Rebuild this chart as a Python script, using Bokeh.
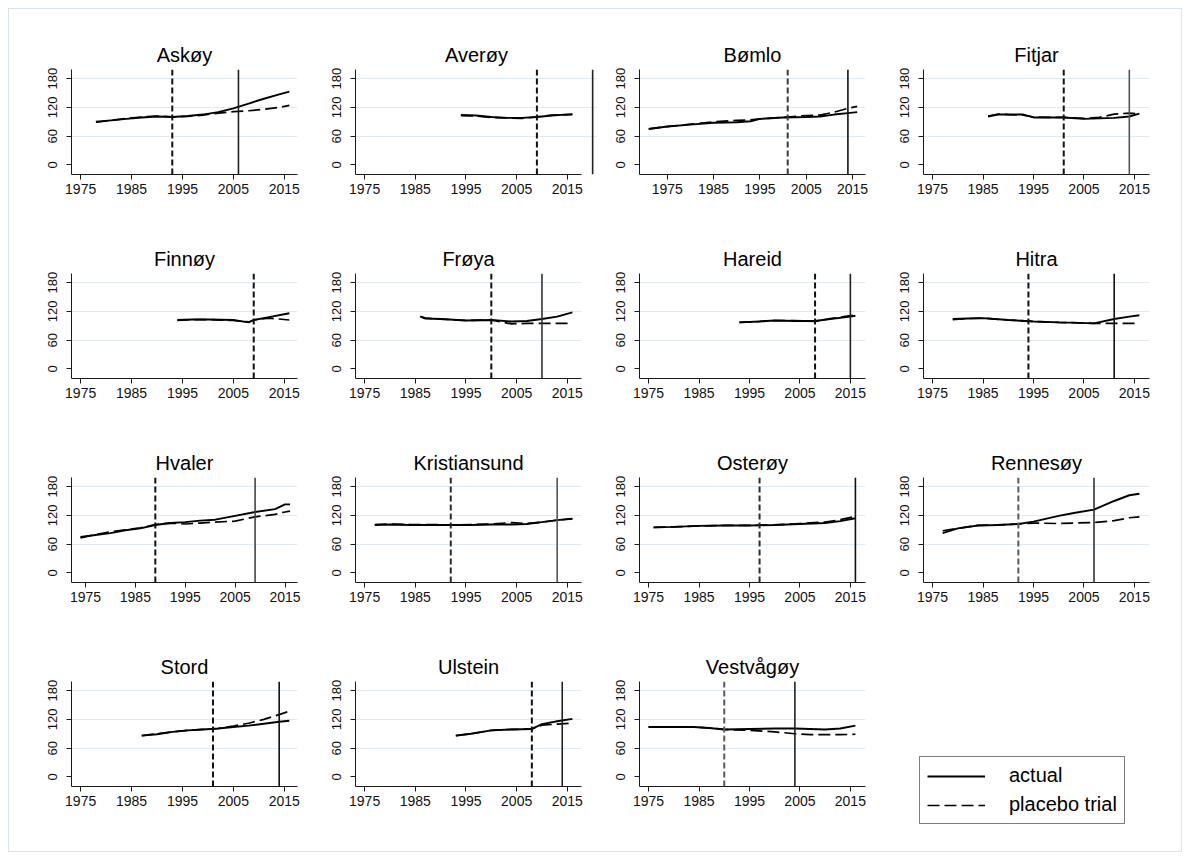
from bokeh.plotting import figure
from bokeh.layouts import row, column, Spacer
from bokeh.models import FixedTicker, Span, Legend, Range1d
from bokeh.embed import file_html
from bokeh.resources import INLINE

# ---------------- data ----------------
names = ["Askøy", "Averøy", "Bømlo", "Fitjar",
         "Finnøy", "Frøya", "Hareid", "Hitra",
         "Hvaler", "Kristiansund", "Osterøy", "Rennesøy",
         "Stord", "Ulstein", "Vestvågøy"]

askoy_years = [1978, 1981, 1984, 1987, 1990, 1993, 1996, 1999, 2002, 2005, 2008, 2011, 2014, 2016]
askoy_actual = [90, 93, 96, 99, 101, 100, 102, 105, 110, 118, 128, 138, 147, 153]
askoy_placebo = [89, 93, 97, 100, 102, 100, 101, 104, 108, 111, 113, 116, 120, 124]

averoy_years = [1994, 1997, 2000, 2003, 2006, 2009, 2012, 2016]
averoy_actual = [104, 103, 100, 98, 98, 100, 103, 106]
averoy_placebo = [103, 102, 99, 98, 97, 100, 104, 105]

bomlo_years = [1971, 1975, 1980, 1985, 1990, 1993, 1995, 2000, 2005, 2008, 2011, 2014, 2016]
bomlo_actual = [75, 80, 84, 88, 89, 91, 96, 99, 100, 101, 105, 108, 110]
bomlo_placebo = [75, 80, 85, 90, 93, 94, 96, 99, 103, 104, 110, 118, 122]

fitjar_years = [1986, 1988, 1990, 1993, 1995, 1998, 2001, 2005, 2008, 2011, 2014, 2016]
fitjar_actual = [101, 105, 105, 105, 99, 99, 99, 96, 97, 98, 101, 107]
fitjar_placebo = [102, 106, 105, 104, 100, 99, 99, 97, 99, 106, 108, 106]

finnoy_years = [1994, 1997, 2000, 2005, 2008, 2009, 2012, 2016]
finnoy_actual = [102, 103, 103, 102, 97, 102, 108, 116]
finnoy_placebo = [101, 103, 103, 101, 98, 102, 106, 102]

froya_years = [1986, 1987, 1990, 1995, 2000, 2004, 2007, 2010, 2013, 2016]
froya_actual = [109, 105, 104, 101, 102, 99, 100, 104, 109, 118]
froya_placebo = [110, 106, 104, 101, 102, 94, 95, 95, 95, 95]

hareid_years = [1993, 1997, 2000, 2004, 2008, 2011, 2015, 2016]
hareid_actual = [97, 99, 101, 100, 100, 104, 109, 111]
hareid_placebo = [97, 99, 101, 101, 99, 105, 111, 113]

hitra_years = [1979, 1982, 1985, 1990, 1995, 2000, 2004, 2007, 2011, 2014, 2016]
hitra_actual = [104, 105, 106, 102, 99, 97, 96, 95, 104, 109, 112]
hitra_placebo = [103, 105, 106, 102, 99, 97, 96, 95, 95, 95, 95]

hvaler_years = [1974, 1977, 1980, 1983, 1986, 1989, 1992, 1995, 1998, 2001, 2005, 2009, 2013, 2015, 2016]
hvaler_actual = [75, 79, 83, 89, 93, 100, 104, 106, 109, 111, 119, 127, 133, 143, 143]
hvaler_placebo = [73, 80, 86, 90, 94, 101, 104, 102, 104, 106, 108, 117, 122, 127, 129]

kristiansund_years = [1977, 1980, 1984, 1988, 1992, 1996, 2000, 2004, 2007, 2010, 2013, 2016]
kristiansund_actual = [100, 101, 100, 100, 100, 100, 101, 101, 102, 106, 110, 113]
kristiansund_placebo = [101, 102, 101, 101, 100, 101, 102, 105, 103, 106, 110, 113]

osteroy_years = [1976, 1980, 1985, 1990, 1995, 2000, 2005, 2010, 2013, 2016]
osteroy_actual = [95, 96, 98, 99, 99, 100, 102, 104, 108, 114]
osteroy_placebo = [95, 96, 98, 99, 99, 100, 103, 106, 111, 118]

rennesoy_years = [1977, 1980, 1984, 1988, 1992, 1995, 2000, 2003, 2007, 2011, 2014, 2016]
rennesoy_actual = [83, 93, 99, 100, 102, 107, 119, 125, 132, 150, 162, 165]
rennesoy_placebo = [88, 93, 99, 100, 102, 104, 103, 104, 105, 109, 115, 117]

stord_years = [1987, 1990, 1993, 1996, 1999, 2002, 2005, 2008, 2011, 2014, 2016]
stord_actual = [86, 89, 94, 97, 99, 101, 104, 107, 111, 115, 117]
stord_placebo = [86, 90, 94, 97, 99, 101, 106, 112, 120, 130, 137]

ulstein_years = [1993, 1996, 2000, 2004, 2008, 2010, 2013, 2016]
ulstein_actual = [86, 90, 97, 99, 100, 110, 116, 121]
ulstein_placebo = [86, 90, 97, 99, 100, 108, 110, 112]

vestvagoy_years = [1975, 1980, 1984, 1987, 1990, 1995, 2000, 2004, 2007, 2010, 2013, 2016]
vestvagoy_actual = [104, 104, 104, 102, 99, 100, 101, 101, 100, 99, 101, 107]
vestvagoy_placebo = [104, 104, 104, 102, 99, 97, 94, 90, 88, 88, 88, 89]

# placebo (dashed) and actual (solid) reform years
placebo_year = [1993, 2009, 2001, 2001, 2009, 2000, 2008, 1994, 1989, 1992, 1997, 1992, 2001, 2008, 1990]
reform_year = [2006, 2020, 2014, 2014, None, 2010, 2015, 2011, 2009, 2013, 2016, 2007, 2014, 2014, 2004]

x_ticks = [1975, 1985, 1995, 2005, 2015]
y_ticks = [0, 60, 120, 180]
grid_ticks = [60, 120, 180]
legend_labels = ["actual", "placebo trial"]

all_years = [askoy_years, averoy_years, bomlo_years, fitjar_years, finnoy_years, froya_years,
             hareid_years, hitra_years, hvaler_years, kristiansund_years, osteroy_years,
             rennesoy_years, stord_years, ulstein_years, vestvagoy_years]
all_actual = [askoy_actual, averoy_actual, bomlo_actual, fitjar_actual, finnoy_actual, froya_actual,
              hareid_actual, hitra_actual, hvaler_actual, kristiansund_actual, osteroy_actual,
              rennesoy_actual, stord_actual, ulstein_actual, vestvagoy_actual]
all_placebo = [askoy_placebo, averoy_placebo, bomlo_placebo, fitjar_placebo, finnoy_placebo, froya_placebo,
               hareid_placebo, hitra_placebo, hvaler_placebo, kristiansund_placebo, osteroy_placebo,
               rennesoy_placebo, stord_placebo, ulstein_placebo, vestvagoy_placebo]

# ---------------- layout / style ----------------
x_ranges = [(1973.2, 2017.6), (1973.2, 2017.8), (1969.0, 2017.8), (1973.2, 2018.0),
            (1973.2, 2017.6), (1973.2, 2017.8), (1973.2, 2018.0), (1973.2, 2018.0),
            (1972.2, 2017.5), (1973.2, 2017.8), (1973.2, 2018.0), (1973.2, 2018.0),
            (1973.2, 2017.6), (1973.2, 2017.8), (1973.2, 2018.0)]
dash_colors = ["#111111", "#111111", "#3a3a3a", "#111111", "#111111", "#111111", "#111111", "#111111",
               "#111111", "#2a2a2a", "#2a2a2a", "#5a5a5a", "#111111", "#111111", "#5a5a5a"]
solid_colors = ["#222222", "#222222", "#111111", "#555555", "#222222", "#333333", "#222222", "#111111",
                "#444444", "#555555", "#111111", "#333333", "#111111", "#222222", "#222222"]
Y_RANGE = (-20, 199)
FONT = "Liberation Sans"
FW, FH = 226, 105
LEFT, RIGHT, TOP, BOTTOM = 42, 16, 43, 56


def make_panel(i):
    xr = x_ranges[i]
    fw, left, right = FW, LEFT, RIGHT
    xr_end = xr[1]
    if reform_year[i] is not None and reform_year[i] > xr[1]:
        extra = 16
        fw = FW + extra
        right = RIGHT - extra
        xr_end = xr[1] + extra * (xr[1] - xr[0]) / FW
    p = figure(frame_width=fw, frame_height=FH,
               x_range=Range1d(xr[0], xr_end), y_range=Range1d(*Y_RANGE),
               output_backend="svg", toolbar_location=None, title=names[i],
               min_border_left=left, min_border_right=right,
               min_border_top=TOP, min_border_bottom=BOTTOM)
    p.title.align = "center"
    p.title.text_font = FONT
    p.title.text_font_size = "20px"
    p.title.text_font_style = "normal"
    p.title.text_color = "#000000"
    p.title.standoff = 8

    p.outline_line_color = None
    p.background_fill_color = "white"
    p.border_fill_color = "white"
    p.xgrid.visible = False
    p.ygrid.ticker = FixedTicker(ticks=grid_ticks)
    p.ygrid.grid_line_color = "#e0eaf0"
    p.ygrid.grid_line_width = 1

    p.xaxis.ticker = FixedTicker(ticks=x_ticks)
    p.yaxis.ticker = FixedTicker(ticks=y_ticks)
    if xr_end != xr[1]:
        p.xaxis.bounds = (xr[0], xr[1])
    p.yaxis.major_label_orientation = "vertical"
    for ax in (p.xaxis[0], p.yaxis[0]):
        ax.major_label_text_font = FONT
        ax.major_label_text_color = "#111111"
        ax.axis_line_color = "#1a1a1a"
        ax.axis_line_width = 1
        ax.major_tick_line_color = "#1a1a1a"
        ax.major_tick_in = 0
        ax.major_tick_out = 5
        ax.minor_tick_line_color = None
    p.xaxis.major_label_text_font_size = "14px"
    p.yaxis.major_label_text_font_size = "13px"
    p.xaxis.major_label_standoff = 4
    p.yaxis.major_label_standoff = 9

    p.line(all_years[i], all_actual[i], line_color="black", line_width=1.9)
    p.line(all_years[i], all_placebo[i], line_color="black", line_width=1.7, line_dash="12 5")

    p.add_layout(Span(location=placebo_year[i], dimension="height", line_color=dash_colors[i],
                      line_width=2, line_dash="6 3"))
    if reform_year[i] is not None:
        p.add_layout(Span(location=reform_year[i], dimension="height", line_color=solid_colors[i],
                          line_width=1.6))
    return p


panels = [make_panel(i) for i in range(len(names))]

# legend cell (dummy renderers sit outside the visible range)
CW, CH = FW + LEFT + RIGHT, FH + TOP + BOTTOM
lg = figure(frame_width=CW, frame_height=CH, min_border=0, x_range=Range1d(0, 1), y_range=Range1d(0, 1),
            output_backend="svg", toolbar_location=None)
lg.axis.visible = False
lg.grid.visible = False
lg.outline_line_color = None
r1 = lg.line(x=[-5, -4], y=[-5, -4], line_color="black", line_width=1.9)
r2 = lg.line(x=[-5, -4], y=[-5, -4], line_color="black", line_width=1.7, line_dash="12 5")
legend = Legend(items=[(legend_labels[0], [r1]), (legend_labels[1], [r2])],
                location=(38, 18), orientation="vertical")
legend.border_line_color = "black"
legend.border_line_width = 1
legend.background_fill_color = "white"
legend.background_fill_alpha = 1
legend.label_text_font = FONT
legend.label_text_font_size = "20px"
legend.label_text_color = "#000000"
legend.glyph_width = 58
legend.glyph_height = 20
legend.label_height = 20
legend.label_standoff = 24
legend.padding = 7
legend.spacing = 6
legend.margin = 0
lg.add_layout(legend)

cells = panels + [lg]
rows = [row(*cells[r * 4:(r + 1) * 4], spacing=0) for r in range(4)]
grid = column(*rows, spacing=0)
page = column(Spacer(height=17),
              row(Spacer(width=20), grid, Spacer(width=16)),
              Spacer(height=9))
page.styles = {"border": "1px solid #d8e5ec"}
outer = column(Spacer(height=8), row(Spacer(width=8), page))

open("out.html", "w").write(file_html(outer, INLINE))
